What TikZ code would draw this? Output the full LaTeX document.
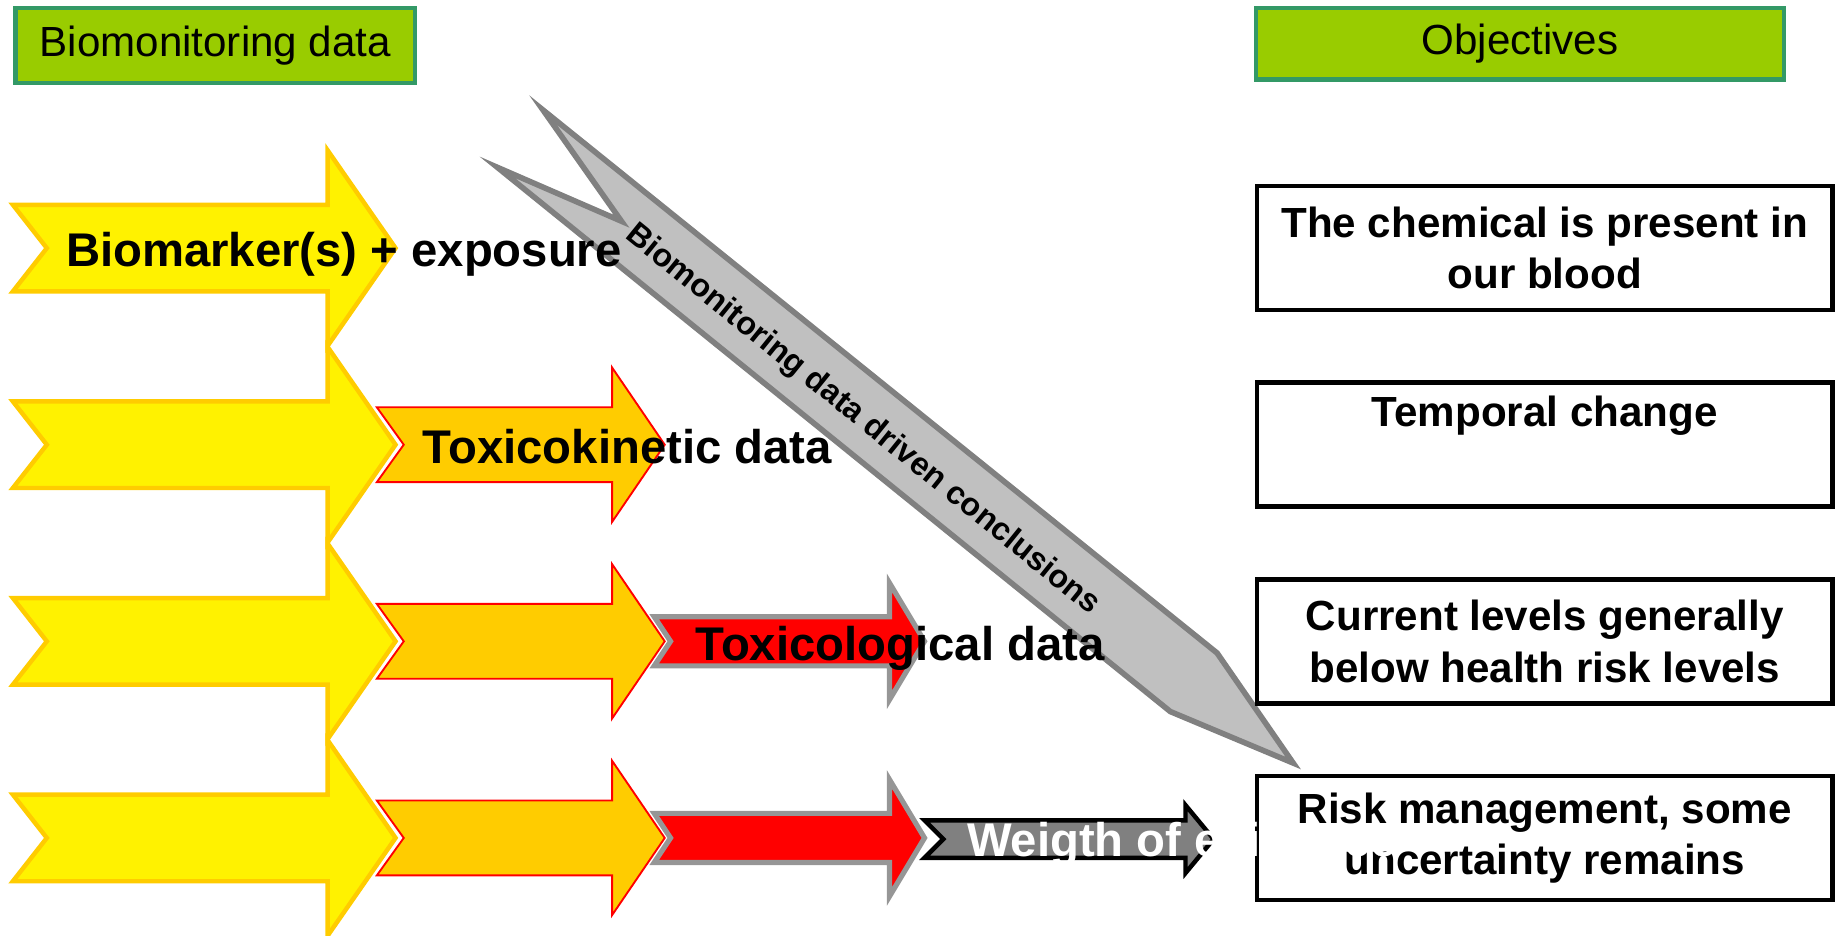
\documentclass[tikz,border=0pt]{standalone}
\usepackage{fontspec}
\setmainfont{Liberation Sans}
\definecolor{barfill}{HTML}{99CC00}
\definecolor{barline}{HTML}{339966}
\definecolor{gold}{HTML}{FFCC00}
\definecolor{midgrey}{HTML}{969696}
\definecolor{darkgrey}{HTML}{808080}
\definecolor{lightgrey}{HTML}{C0C0C0}
\tikzset{
	header/.style={draw=barline, fill=barfill, line width=1.9pt, inner sep=0pt, font=\fontsize{18}{22}\selectfont},
	objbox/.style={draw=black, fill=white, line width=2pt, minimum width=246pt, minimum height=53pt, inner sep=0pt, align=center, font=\bfseries\fontsize{18}{22}\selectfont},
	rowlabel/.style={anchor=base west, inner sep=0pt, font=\bfseries\fontsize{20.2}{24}\selectfont},
	yellowarrow/.style={draw=gold, fill=yellow, line width=1.9pt},
	orangearrow/.style={draw=red, fill=gold, line width=0.8pt},
	redarrow/.style={draw=midgrey, fill=red, line width=2.2pt},
	greyarrow/.style={draw=black, fill=darkgrey, line width=1.9pt},
	bigarrow/.style={draw=darkgrey, fill=lightgrey, line width=2.4pt}
}
\begin{document}
\begin{tikzpicture}[x=0.5pt, y=-0.5pt]
\useasboundingbox (0,0) rectangle (1568,799);
\foreach \r in {0,...,3} {
	\pgfmathsetmacro{\cy}{212+168*\r}
	\draw[yellowarrow] (11,\cy-37) -- (280,\cy-37) -- (280,\cy-83.5) -- (338,\cy) -- (280,\cy+83.5) -- (280,\cy+37) -- (11,\cy+37) -- (40,\cy) -- cycle;
}
\foreach \r in {1,...,3} {
	\pgfmathsetmacro{\cy}{212+168*\r}
	\draw[orangearrow] (322,\cy-32) -- (523,\cy-32) -- (523,\cy-66) -- (568,\cy) -- (523,\cy+66) -- (523,\cy+32) -- (322,\cy+32) -- (345,\cy) -- cycle;
}
\foreach \r in {2,3} {
	\pgfmathsetmacro{\cy}{212+168*\r}
	\draw[redarrow] (559,\cy-21) -- (760,\cy-21) -- (760,\cy-50) -- (790,\cy) -- (760,\cy+50) -- (760,\cy+21) -- (559,\cy+21) -- (573,\cy) -- cycle;
}
\draw[greyarrow] (790,701) -- (1013,701) -- (1013,688) -- (1037,717) -- (1013,746) -- (1013,733) -- (790,733) -- (806,717) -- cycle;
\draw[bigarrow] (464,94) -- (1040,558) -- (1105,652) -- (1000,608) -- (425,143) -- (531,189) -- cycle;
\node[rotate=-39, inner sep=0pt, font=\bfseries\fontsize{13.8}{16}\selectfont] (conc) at (737,359) {Biomonitoring data driven conclusions};
\node[rowlabel] (biomarker) at (56,228) {Biomarker(s) + exposure};
\node[rowlabel] (kinetic) at (361,396) {Toxicokinetic data};
\node[rowlabel] (toxic) at (594,564) {Toxicological data};
\node[header, minimum width=170.7pt, minimum height=32pt] (bmdata) at (184,39) {Biomonitoring data};
\node[header, minimum width=225.4pt, minimum height=30.6pt] (objectives) at (1298.8,37.5) {Objectives};
\node[objbox] (present) at (1320,212) {The chemical is present in\\our blood};
\node[objbox] (temporal) at (1320,380) {Temporal change\\\strut};
\node[objbox] (current) at (1320,548) {Current levels generally\\below health risk levels};
\node[objbox] (riskman) at (1320,716) {Risk management, some\\uncertainty remains};
\node[rowlabel, text=white] (weigth) at (826,732) {Weigth of evidence};
\end{tikzpicture}
\end{document}
